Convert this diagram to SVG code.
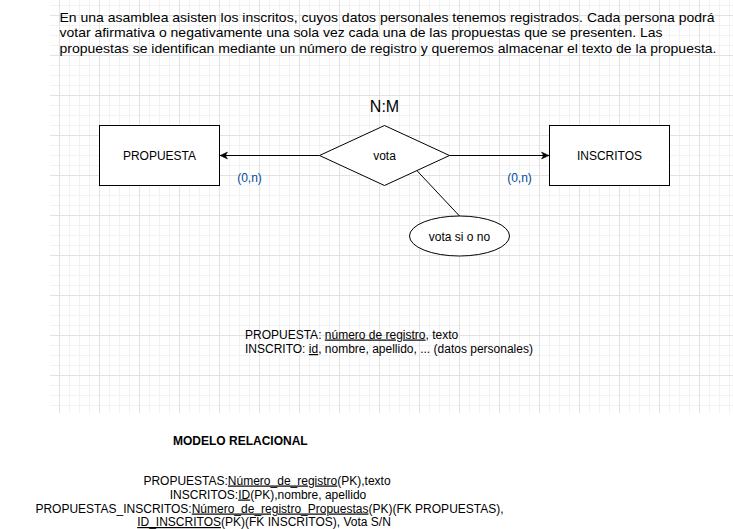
<svg xmlns="http://www.w3.org/2000/svg" width="733" height="529" viewBox="0 0 733 529">
  <style>
    text { font-family: "Liberation Sans", Arial, sans-serif; fill: #000; }
    .lbl { font-size: 12px; text-anchor: middle; }
    .para { font-size: 13px; }
    .card { font-size: 12px; fill: #004c99; text-anchor: middle; }
    .shape { fill: #fff; stroke: #000; stroke-width: 1; }
    .edge { fill: none; stroke: #000; stroke-width: 1; }
    .u { text-decoration: underline; }
    .rel { font-size: 12px; text-anchor: middle; }
  </style>
  <defs>
    <pattern id="grid" patternUnits="userSpaceOnUse" x="59" y="15" width="40" height="40">
      <path d="M10.5 0V40M20.5 0V40M30.5 0V40M0 10.5H40M0 20.5H40M0 30.5H40" stroke="#f2f2f2" stroke-width="1" fill="none"/>
      <path d="M0.5 0V40M0 0.5H40" stroke="#e2e2e2" stroke-width="1" fill="none"/>
    </pattern>
    <marker id="arrow" markerUnits="userSpaceOnUse" markerWidth="10" markerHeight="10" viewBox="-8 -5 10 10" refX="0" refY="0" orient="auto">
      <path d="M0 0L-7.5 -3.5L-5.5 0L-7.5 3.5Z" fill="#000" stroke="#000" stroke-width="0.5"/>
    </marker>
  </defs>

  <rect width="733" height="529" fill="#fff"/>
  <rect x="50" y="0" width="683" height="413" fill="url(#grid)"/>

  <g id="enunciado">
    <text class="para" x="59.5" y="21.5" textLength="655" lengthAdjust="spacingAndGlyphs">En una asamblea asisten los inscritos, cuyos datos personales tenemos registrados. Cada persona podrá</text>
    <text class="para" x="59.5" y="37" textLength="603" lengthAdjust="spacingAndGlyphs">votar afirmativa o negativamente una sola vez cada una de las propuestas que se presenten. Las</text>
    <text class="para" x="59.5" y="52.5" textLength="657" lengthAdjust="spacingAndGlyphs">propuestas se identifican mediante un número de registro y queremos almacenar el texto de la propuesta.</text>
  </g>

  <g id="connectors">
    <line class="edge" x1="319.5" y1="155.5" x2="220" y2="155.5" marker-end="url(#arrow)"/>
    <line class="edge" x1="449.5" y1="155.5" x2="549" y2="155.5" marker-end="url(#arrow)"/>
    <line class="edge" x1="416.8" y1="170.5" x2="459.5" y2="216"/>
    <text class="card" x="249.5" y="182">(0,n)</text>
    <text class="card" x="519.5" y="182">(0,n)</text>
  </g>

  <g id="cardinalidad">
    <text x="384.5" y="112" font-size="16" text-anchor="middle">N:M</text>
  </g>

  <g id="propuesta">
    <rect class="shape" x="99.5" y="125.5" width="120" height="60"/>
    <text class="lbl" x="159.5" y="160">PROPUESTA</text>
  </g>

  <g id="inscritos">
    <rect class="shape" x="549.5" y="125.5" width="120" height="60"/>
    <text class="lbl" x="609.5" y="160">INSCRITOS</text>
  </g>

  <g id="vota">
    <polygon class="shape" points="319.5,155.5 384.5,125.5 449.5,155.5 384.5,185.5"/>
    <text class="lbl" x="384.5" y="160">vota</text>
  </g>

  <g id="vota-si-o-no">
    <ellipse class="shape" cx="459.5" cy="236" rx="50" ry="20"/>
    <text class="lbl" x="459.5" y="240.5">vota si o no</text>
  </g>

  <g id="atributos">
    <text x="245" y="338.5" font-size="12">PROPUESTA: <tspan class="u">número de registro</tspan>, texto</text>
    <text x="245" y="353" font-size="12">INSCRITO: <tspan class="u">id</tspan>, nombre, apellido, ... (datos personales)</text>
  </g>

  <g id="modelo-relacional">
    <text x="173" y="444.5" font-size="12" font-weight="bold">MODELO RELACIONAL</text>
    <text class="rel" x="267" y="484.5">PROPUESTAS:<tspan class="u">Número_de_registro</tspan>(PK),texto</text>
    <text class="rel" x="268" y="498.5">INSCRITOS:<tspan class="u">ID</tspan>(PK),nombre, apellido</text>
    <text class="rel" x="269.5" y="512.5">PROPUESTAS_INSCRITOS:<tspan class="u">Número_de_registro_Propuestas</tspan>(PK)(FK PROPUESTAS),</text>
    <text class="rel" x="264" y="526"><tspan class="u">ID_INSCRITOS</tspan>(PK)(FK INSCRITOS), Vota S/N</text>
  </g>
</svg>
